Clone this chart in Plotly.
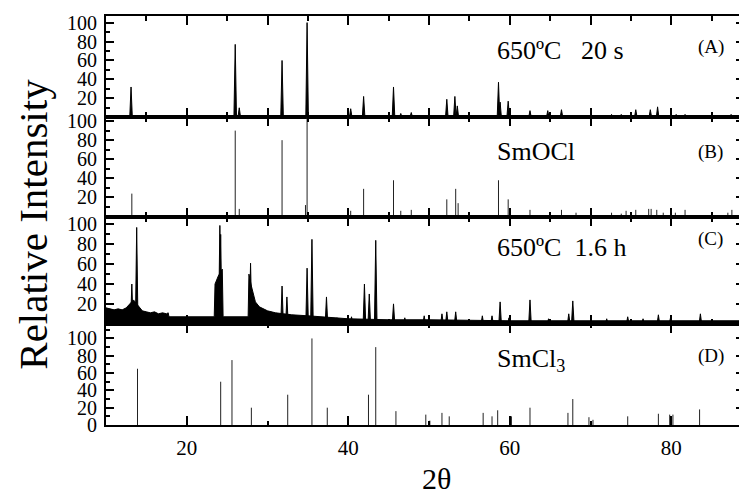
import plotly.graph_objects as go

# ---------------- data ----------------
# Panel A: 650ºC 20 s  (peak positions 2θ, relative intensity)
a_pos = [13.1, 26.0, 26.5, 31.8, 34.9, 40.3, 41.9, 45.6, 46.5, 47.8, 52.2, 53.2, 53.5,
         58.6, 58.8, 59.8, 62.5, 64.7, 66.4, 72.6, 73.8, 75.6, 77.4, 78.3, 80.6, 81.7, 87.4]
a_int = [32, 77, 10, 60, 100, 9, 22, 32, 4, 5, 19, 22, 12,
         37, 16, 17, 7, 7, 8, 3, 3, 8, 8, 11, 3, 3, 3]

# Panel B: SmOCl reference pattern
b_pos = [13.2, 26.0, 26.5, 31.8, 34.7, 34.9, 40.3, 41.9, 45.6, 46.5, 47.8, 52.2, 53.3, 53.6,
         58.6, 59.8, 62.5, 66.4, 68.2, 72.6, 73.8, 74.4, 75.6, 77.2, 77.5, 78.2, 79.0, 80.5,
         81.7, 87.0, 87.5]
b_int = [24, 90, 8, 80, 12, 104, 6, 29, 38, 6, 7, 18, 29, 14,
         38, 18, 7, 7, 4, 4, 3, 6, 7, 8, 8, 7, 4, 4,
         7, 4, 7]

# Panel C: 650ºC 1.6 h  (background profile + peaks)
c_bg_x = [10.0, 10.5, 11.0, 11.5, 12.0, 12.5, 13.0, 13.4, 14.0, 14.5, 15.0, 15.5, 16.0,
          16.5, 17.0, 17.5, 17.7, 17.8, 23.4, 23.5, 23.9, 24.4, 24.5, 27.6, 27.7, 28.0,
          28.5, 29.0, 30.0, 31.0, 32.0, 33.0, 35.0, 37.0, 40.0, 45.0, 50.0, 60.0, 70.0,
          80.0, 89.0]
c_bg_y = [16, 15, 14, 15, 14, 16, 20, 24, 18, 13, 12, 11, 12,
          10, 11, 10, 11, 7, 7, 40, 48, 55, 7, 7, 50, 38,
          22, 17, 13, 11, 10, 9, 8, 7, 5, 4, 4, 3, 3,
          3, 3]
c_pos = [13.2, 13.8, 24.1, 24.2, 27.9, 31.8, 32.4, 34.9, 35.5, 37.3, 38.6, 40.4, 42.0, 42.6,
         43.4, 45.6, 47.0, 49.4, 51.6, 52.2, 53.3, 56.6, 57.8, 58.8, 59.9, 62.5, 64.8, 67.3,
         67.8, 72.0, 74.6, 76.5, 78.4, 79.9, 83.6, 88.7]
c_int = [40, 97, 99, 90, 61, 38, 27, 56, 85, 27, 6, 7, 40, 30,
         84, 20, 6, 8, 10, 12, 12, 8, 8, 22, 6, 24, 5, 10,
         23, 5, 7, 5, 9, 6, 10, 10]

# Panel D: SmCl3 reference pattern
d_pos = [13.9, 24.2, 25.6, 28.0, 32.5, 35.5, 37.4, 42.5, 43.4, 45.9, 49.6, 50.1, 51.6, 52.5,
         56.7, 57.8, 58.5, 60.2, 62.5, 67.2, 67.8, 69.8, 70.3, 74.6, 78.4, 79.8, 80.2, 83.5,
         88.6]
d_int = [65, 50, 75, 20, 35, 100, 20, 35, 90, 16, 12, 5, 14, 10,
         14, 10, 17, 10, 20, 14, 30, 9, 6, 10, 13, 12, 12, 18,
         10]

x_ticks_major = [10, 20, 30, 40, 50, 60, 70, 80]
x_tick_labels = ["20", "40", "60", "80"]
y_ticks = [0, 20, 40, 60, 80, 100]

panel_texts = ["650ºC   20 s", "SmOCl", "650ºC  1.6 h", "SmCl<sub>3</sub>"]
panel_tags = ["(A)", "(B)", "(C)", "(D)"]

# ---------------- helpers ----------------
FONT = "Liberation Serif"


def peak_shapes(pos, inten, hw):
    xs, ys = [], []
    for p, h in zip(pos, inten):
        xs += [p - hw, p, p + hw, None]
        ys += [0, h, 0, None]
    return xs, ys


def sticks(pos, inten):
    xs, ys = [], []
    for p, h in zip(pos, inten):
        xs += [p, p, None]
        ys += [0, h, None]
    return xs, ys


fig = go.Figure()

# A
xa, ya = peak_shapes(a_pos, a_int, 0.16)
fig.add_trace(go.Scatter(x=xa, y=ya, mode="lines", fill="toself", fillcolor="black",
                         line=dict(color="black", width=1), xaxis="x", yaxis="y",
                         hoverinfo="skip", showlegend=False))
# B
xb, yb = sticks(b_pos, b_int)
fig.add_trace(go.Scatter(x=xb, y=yb, mode="lines", line=dict(color="#222", width=1),
                         xaxis="x2", yaxis="y2", hoverinfo="skip", showlegend=False))
# C
fig.add_trace(go.Scatter(x=c_bg_x, y=c_bg_y, mode="lines", fill="tozeroy", fillcolor="black",
                         line=dict(color="black", width=1), xaxis="x3", yaxis="y3",
                         hoverinfo="skip", showlegend=False))
xc, yc = peak_shapes(c_pos, c_int, 0.16)
fig.add_trace(go.Scatter(x=xc, y=yc, mode="lines", fill="toself", fillcolor="black",
                         line=dict(color="black", width=1), xaxis="x3", yaxis="y3",
                         hoverinfo="skip", showlegend=False))
# D
xd, yd = sticks(d_pos, d_int)
fig.add_trace(go.Scatter(x=xd, y=yd, mode="lines", line=dict(color="#222", width=1),
                         xaxis="x4", yaxis="y4", hoverinfo="skip", showlegend=False))

# ---------------- layout ----------------
# page body has an 8px margin, so the figure is offset by 8px
top_px, bot_px = 13, 425
edges_px = [13, 115, 215, 323, 425]
doms = [((bot_px - edges_px[i + 1]) / (bot_px - top_px), (bot_px - edges_px[i]) / (bot_px - top_px))
        for i in range(4)]
yranges = [[0, 107], [0, 104], [0, 108], [0, 117]]

layout = dict(
    width=739, height=486,
    margin=dict(l=98, r=1, t=5, b=69),
    paper_bgcolor="white", plot_bgcolor="white",
    font=dict(family=FONT, size=20, color="black"),
    showlegend=False,
)

for i in range(4):
    sfx = "" if i == 0 else str(i + 1)
    is_last = i == 3
    xa_cfg = dict(
        domain=[0, 1], range=[10, 89], anchor="y" + sfx,
        showline=True, linecolor="black", linewidth=2, mirror="allticks",
        ticks="inside", ticklen=9, tickwidth=2, tickcolor="black",
        showgrid=False, zeroline=False, fixedrange=True,
    )
    if is_last:
        xa_cfg.update(tickmode="array", tickvals=[20, 40, 60, 80], ticktext=x_tick_labels,
                      showticklabels=True, ticklabelstandoff=3,
                      tickfont=dict(family=FONT, size=21, color="black"),
                      minor=dict(tickmode="linear", tick0=0, dtick=10, ticklen=4,
                                 tickwidth=2, tickcolor="black", ticks="inside", showgrid=False))
    else:
        xa_cfg.update(tickmode="array", tickvals=x_ticks_major, showticklabels=False,
                      minor=dict(tickmode="linear", tick0=0, dtick=5, ticklen=5,
                                 tickwidth=2, tickcolor="black", ticks="inside", showgrid=False))
    if i > 0:
        xa_cfg["matches"] = "x"
    ya_vals = y_ticks if is_last else y_ticks[1:]
    ya_cfg = dict(
        domain=list(doms[i]), range=yranges[i], anchor="x" + sfx,
        showline=True, linecolor="black", linewidth=2, mirror="allticks",
        ticks="inside", ticklen=8, tickwidth=2, tickcolor="black",
        tickmode="array", tickvals=ya_vals, ticktext=[str(v) for v in ya_vals],
        ticklabelstandoff=3,
        tickfont=dict(family=FONT, size=20, color="black"),
        minor=dict(tickmode="linear", tick0=0, dtick=10, ticklen=4, tickwidth=2,
                   tickcolor="black", ticks="inside", showgrid=False),
        showgrid=False, zeroline=False, fixedrange=True,
    )
    layout["xaxis" + sfx] = xa_cfg
    layout["yaxis" + sfx] = ya_cfg

annotations = []
text_y = [71, 68, 77, 75]
tag_y = [74, 68, 85, 80]
for i in range(4):
    sfx = "" if i == 0 else str(i + 1)
    annotations.append(dict(x=58.2, y=text_y[i], xref="x" + sfx, yref="y" + sfx,
                            text=panel_texts[i], showarrow=False, xanchor="left",
                            yanchor="middle", font=dict(family=FONT, size=26, color="black")))
    annotations.append(dict(x=83.0, y=tag_y[i], xref="x" + sfx, yref="y" + sfx,
                            text=panel_tags[i], showarrow=False, xanchor="left",
                            yanchor="middle", font=dict(family=FONT, size=19, color="black")))

annotations.append(dict(x=(33 - 106) / 640, y=(425 - 223) / 412, xref="paper", yref="paper",
                        text="Relative Intensity", textangle=-90, showarrow=False,
                        xanchor="center", yanchor="middle",
                        font=dict(family=FONT, size=41, color="black")))
annotations.append(dict(x=(438 - 106) / 640, y=(425 - 479) / 412, xref="paper", yref="paper",
                        text="2θ", showarrow=False, xanchor="center", yanchor="middle",
                        font=dict(family=FONT, size=30, color="black")))
layout["annotations"] = annotations

fig.update_layout(**layout)
fig.write_html("out.html")
